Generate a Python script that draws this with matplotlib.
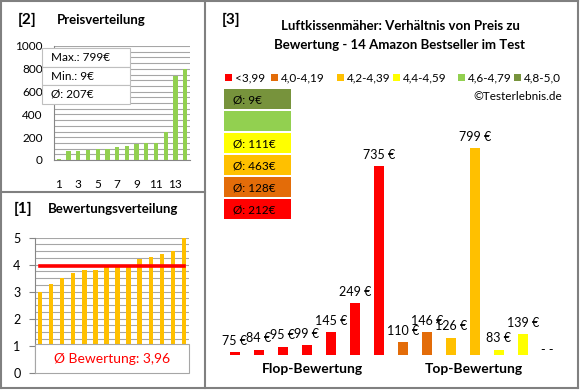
import matplotlib
matplotlib.use("Agg")
import matplotlib.pyplot as plt
from matplotlib.patches import Rectangle
from matplotlib.lines import Line2D
import numpy as np

plt.rcParams['font.family'] = ['Lato', 'DejaVu Sans']

# --- data ---
prices_sorted = [9, 75, 83, 84, 95, 99, 110, 126, 139, 145, 146, 249, 735, 799]
price_ticks = [1, 3, 5, 7, 9, 11, 13]
info_lines = ["Max.: 799€", "Min.: 9€", "Ø: 207€"]

ratings_sorted = [3.0, 3.3, 3.5, 3.7, 3.8, 3.8, 3.9, 3.9, 3.9, 4.2, 4.3, 4.4, 4.5, 5.0]
rating_mean = 3.96
rating_text = "Ø Bewertung: 3,96"

products_prices = [75, 84, 95, 99, 145, 249, 735, 110, 146, 126, 799, 83, 139, 0]
products_labels = ["75 €", "84 €", "95 €", "99 €", "145 €", "249 €", "735 €",
                   "110 €", "146 €", "126 €", "799 €", "83 €", "139 €", "- -"]
products_cat = [0, 0, 0, 0, 0, 0, 0, 1, 1, 2, 2, 3, 3, 5]

cat_names = ["<3,99", "4,0-4,19", "4,2-4,39", "4,4-4,59", "4,6-4,79", "4,8-5,0"]
cat_colors = ["#FF0000", "#E36C09", "#FFC000", "#FFFF00", "#92D050", "#77933C"]
# average boxes, top to bottom (category index, text)
avg_order = [5, 4, 3, 2, 1, 0]
avg_texts = ["Ø: 9€", "", "Ø: 111€", "Ø: 463€", "Ø: 128€", "Ø: 212€"]

W, H = 580, 390


def px(l, t, w, h):
    return [l / W, 1 - (t + h) / H, w / W, h / H]


def fx(x):
    return x / W


def fy(y):
    return 1 - y / H


fig = plt.figure(figsize=(5.8, 3.9), dpi=100)
fig.patch.set_facecolor("white")

grid_c = "#A6A6A6"
spine_c = "#868686"

# ---------- panel [2] Preisverteilung ----------
ax2 = fig.add_axes(px(54, 46, 136, 114))
x2 = np.arange(1, len(prices_sorted) + 1)
ax2.bar(x2, prices_sorted, width=0.45, color="#92D050", zorder=3)
ax2.set_xlim(0.5, 14.5)
ax2.set_ylim(0, 1000)
ax2.set_yticks(range(0, 1001, 200))
ax2.set_yticks(range(0, 1001, 50), minor=True)
ax2.yaxis.grid(True, which="both", color=grid_c, lw=0.8, zorder=0)
ax2.set_xticks(price_ticks)
ax2.tick_params(axis="x", length=0, pad=14, labelsize=8.5)
ax2.tick_params(axis="y", which="both", length=0, pad=8, labelsize=8.5)
for s in ["top", "right"]:
    ax2.spines[s].set_visible(False)
ax2.spines["left"].set_color(spine_c)
ax2.spines["bottom"].set_color(spine_c)

fig.text(fx(18), fy(20), "[2]", fontsize=11, fontweight="bold", va="center")
fig.text(fx(57), fy(20), "Preisverteilung", fontsize=9.5, fontweight="bold", va="center")

for i, t in enumerate(info_lines):
    top = 48 + i * 18.5
    fig.patches.append(Rectangle((fx(42), fy(top + 18.5)), 88 / W, 18.5 / H,
                                 transform=fig.transFigure, facecolor="white",
                                 edgecolor="#BFBFBF", lw=0.8, zorder=5))
    fig.text(fx(51), fy(top + 9.5), t, fontsize=8.5, va="center", zorder=6)

# ---------- panel [1] Bewertungsverteilung ----------
ax1 = fig.add_axes(px(34.5, 237.7, 155, 135))
x1 = np.arange(1, len(ratings_sorted) + 1)
ax1.bar(x1, ratings_sorted, width=0.4, color="#FFC000", zorder=3)
ax1.plot([1, 14], [rating_mean, rating_mean], color="#FF0000", lw=2.6, zorder=4)
ax1.set_xlim(0.5, 14.5)
ax1.set_ylim(0, 5)
ax1.set_yticks(range(0, 6))
ax1.set_yticks(np.arange(0, 5.01, 0.25), minor=True)
ax1.yaxis.grid(True, which="both", color=grid_c, lw=0.8, zorder=0)
ax1.set_xticks([])
ax1.tick_params(axis="y", which="major", length=4, color=spine_c, pad=6, labelsize=9)
ax1.tick_params(axis="y", which="minor", length=0)
for s in ["top", "right", "bottom"]:
    ax1.spines[s].set_visible(False)
ax1.spines["left"].set_color(spine_c)
ax1.add_patch(Rectangle((0, 0), 1, 1.05 / 5, transform=ax1.transAxes,
                        facecolor="white", edgecolor="#A6A6A6", lw=0.8,
                        zorder=5, clip_on=False))
ax1.text(0.5, 0.5 / 5, rating_text, transform=ax1.transAxes, ha="center",
         va="center", color="#FF0000", fontsize=10, zorder=6)

fig.text(fx(14), fy(209), "[1]", fontsize=11, fontweight="bold", va="center")
fig.text(fx(48), fy(209), "Bewertungsverteilung", fontsize=9.5, fontweight="bold", va="center")

# ---------- panel [3] ----------
ymin3 = 65
ax3 = fig.add_axes(px(223, 91.4, 336, 263.6))
x3 = np.arange(len(products_prices))
ax3.bar(x3, products_prices, width=0.42,
        color=[cat_colors[c] for c in products_cat], zorder=3)
ax3.set_xlim(-0.5, 13.5)
ax3.set_ylim(ymin3, 1000)
ax3.axis("off")
for xi, v, lab in zip(x3, products_prices, products_labels):
    if v > ymin3:
        ax3.annotate(lab, (xi, v), xytext=(0, 4), textcoords="offset points",
                     ha="center", va="bottom", fontsize=9)
    else:
        ax3.annotate(lab, (xi, ymin3), xytext=(0, -1), textcoords="offset points",
                     ha="center", va="bottom", fontsize=9)

fig.text(fx(222), fy(20), "[3]", fontsize=11, fontweight="bold", va="center")
fig.text(fx(400), fy(26), "Luftkissenmäher: Verhältnis von Preis zu",
         fontsize=9.5, fontweight="bold", ha="center", va="center")
fig.text(fx(400), fy(45), "Bewertung - 14 Amazon Bestseller im Test",
         fontsize=9.5, fontweight="bold", ha="center", va="center")

leg_x = [225, 271, 337, 393, 458, 514]
for lx, name, col in zip(leg_x, cat_names, cat_colors):
    fig.patches.append(Rectangle((fx(lx), fy(81)), 7 / W, 7 / H,
                                 transform=fig.transFigure, facecolor=col,
                                 edgecolor="none"))
    fig.text(fx(lx + 10), fy(77.5), name, fontsize=8.5, va="center")
fig.text(fx(562), fy(97), "©Testerlebnis.de", fontsize=8.5, ha="right", va="center")

for i, (ci, t) in enumerate(zip(avg_order, avg_texts)):
    top = 89 + i * 22
    fig.patches.append(Rectangle((fx(224), fy(top + 20)), 67 / W, 20 / H,
                                 transform=fig.transFigure,
                                 facecolor=cat_colors[ci], edgecolor="none"))
    fig.text(fx(233), fy(top + 10.5), t, fontsize=8.5, va="center")

fig.text(fx(312), fy(369), "Flop-Bewertung", fontsize=10, fontweight="bold",
         ha="center", va="center")
fig.text(fx(474), fy(369), "Top-Bewertung", fontsize=10, fontweight="bold",
         ha="center", va="center")

# ---------- frames ----------
fc = "#808080"
for (xa, ya) in [([1, 578], [1, 1]), ([1, 578], [388, 388]), ([1, 1], [1, 388]),
                 ([578, 578], [1, 388]), ([205, 205], [1, 388]), ([1, 205], [192, 192])]:
    fig.lines.append(Line2D([fx(v) for v in xa], [fy(v) for v in ya],
                            transform=fig.transFigure, color=fc, lw=1.5))

fig.savefig("out.png", dpi=100)
